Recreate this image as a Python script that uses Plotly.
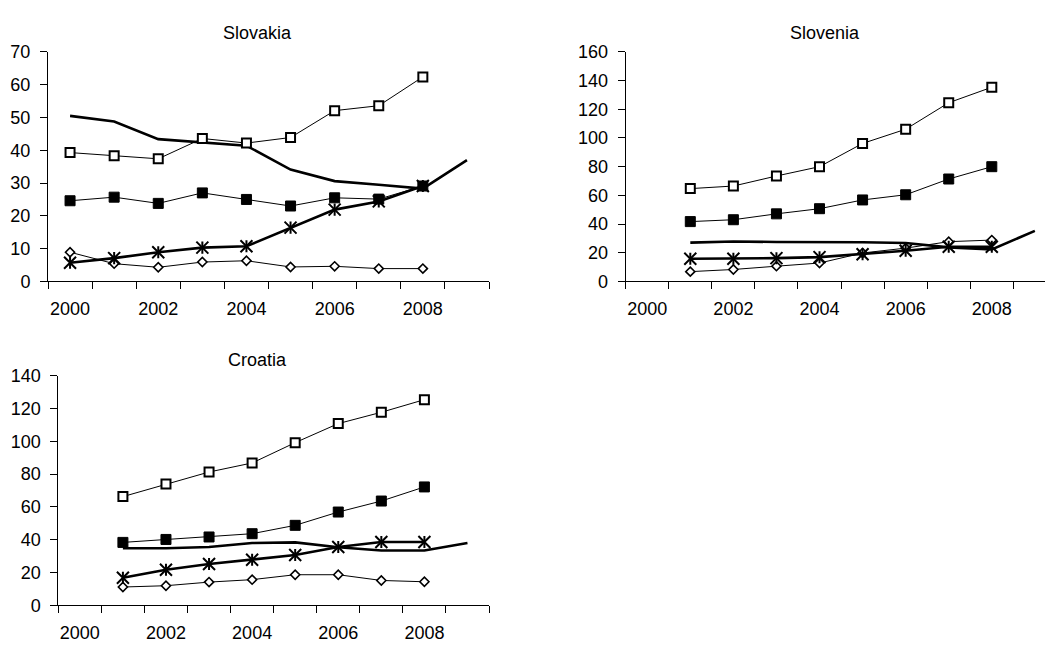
import plotly.graph_objects as go

W, H = 1045, 650

years = [2000, 2001, 2002, 2003, 2004, 2005, 2006, 2007, 2008, 2009]
year_ticks = [2000, 2002, 2004, 2006, 2008]

# Slovakia: marked series 2000-2008, plain bold line 2000-2009
svk_open_sq = [39.3, 38.3, 37.4, 43.6, 42.2, 43.9, 52.1, 53.6, 62.4]
svk_filled_sq = [24.6, 25.7, 23.8, 27.0, 25.0, 23.0, 25.5, 25.1, 29.1]
svk_diamond = [8.9, 5.4, 4.3, 5.9, 6.3, 4.4, 4.6, 3.9, 3.9]
svk_star = [5.7, 7.1, 8.9, 10.3, 10.7, 16.4, 21.9, 24.4, 29.1]
svk_line = [50.5, 48.8, 43.4, 42.4, 41.4, 34.1, 30.6, 29.5, 28.3, 37.0]

# Slovenia: marked series 2001-2008, plain bold line 2001-2009
svn_open_sq = [64.7, 66.5, 73.5, 80.0, 96.2, 106.1, 124.6, 135.4]
svn_filled_sq = [41.7, 43.0, 47.1, 50.7, 56.8, 60.4, 71.4, 80.0]
svn_diamond = [6.8, 8.3, 10.6, 12.8, 19.8, 23.2, 27.7, 28.8]
svn_star = [15.8, 15.8, 16.2, 16.9, 18.9, 21.4, 24.1, 24.1]
svn_line = [27.0, 27.8, 27.5, 27.5, 27.3, 26.8, 23.7, 22.3, 35.2]

# Croatia: marked series 2001-2008, plain bold line 2001-2009
hrv_open_sq = [66.3, 74.0, 81.3, 86.8, 99.2, 110.8, 117.7, 125.4]
hrv_filled_sq = [38.4, 40.2, 41.7, 43.7, 48.8, 56.9, 63.6, 72.2]
hrv_diamond = [11.2, 12.0, 14.2, 15.7, 18.7, 18.7, 15.2, 14.4]
hrv_star = [16.9, 21.7, 25.2, 27.8, 30.7, 35.6, 38.6, 38.6]
hrv_line = [34.8, 34.8, 35.6, 38.0, 38.4, 35.4, 33.5, 33.5, 38.0]

FONT = "Arial, 'Liberation Sans', sans-serif"

fig = go.Figure()


def add_panel(xa, ya, start, open_sq, filled_sq, diamond, star, line):
    xs = years[start:start + len(open_sq)]
    xl = years[start:start + len(line)]
    ax = dict(xaxis=xa, yaxis=ya, showlegend=False, hoverinfo="skip")
    # plain bold line
    fig.add_trace(go.Scatter(x=xl, y=line, mode="lines",
                             line=dict(color="black", width=2.6), **ax))
    # open squares
    fig.add_trace(go.Scatter(x=xs, y=open_sq, mode="lines+markers",
                             line=dict(color="black", width=1),
                             marker=dict(symbol="square", size=9, color="white",
                                         line=dict(color="black", width=2)), **ax))
    # filled squares
    fig.add_trace(go.Scatter(x=xs, y=filled_sq, mode="lines+markers",
                             line=dict(color="black", width=1),
                             marker=dict(symbol="square", size=10, color="black",
                                         line=dict(color="black", width=1)), **ax))
    # open diamonds
    fig.add_trace(go.Scatter(x=xs, y=diamond, mode="lines+markers",
                             line=dict(color="black", width=1),
                             marker=dict(symbol="diamond", size=7, color="white",
                                         line=dict(color="black", width=1.6)), **ax))
    # stars: bold line with X + vertical bar markers
    fig.add_trace(go.Scatter(x=xs, y=star, mode="lines+markers",
                             line=dict(color="black", width=2.6),
                             marker=dict(symbol="x-thin-open", size=12, color="black",
                                         line=dict(color="black", width=2)), **ax))
    fig.add_trace(go.Scatter(x=xs, y=star, mode="markers",
                             marker=dict(symbol="line-ns-open", size=8.6, color="black",
                                         line=dict(color="black", width=2)), **ax))


add_panel("x", "y", 0, svk_open_sq, svk_filled_sq, svk_diamond, svk_star, svk_line)
add_panel("x2", "y2", 1, svn_open_sq, svn_filled_sq, svn_diamond, svn_star, svn_line)
add_panel("x3", "y3", 1, hrv_open_sq, hrv_filled_sq, hrv_diamond, hrv_star, hrv_line)


def xaxis(left, right, end, anchor):
    return dict(domain=[left / W, right / W], range=[1999.5, end], anchor=anchor,
                tickmode="array", tickvals=year_ticks,
                ticktext=[str(v) for v in year_ticks], ticks="",
                ticklabelstandoff=11,
                minor=dict(tickmode="linear", tick0=1999.5, dtick=1, ticks="outside",
                           ticklen=7, tickwidth=1, tickcolor="black", showgrid=False),
                showline=True, linecolor="black", linewidth=1,
                showgrid=False, zeroline=False, fixedrange=True)


def yaxis(top, bottom, ymax, dtick, anchor):
    return dict(domain=[(H - bottom) / H, (H - top) / H], range=[0, ymax], anchor=anchor,
                dtick=dtick, tick0=0, ticks="outside", ticklen=7, tickwidth=1,
                tickcolor="black", ticklabelstandoff=6,
                showline=True, linecolor="black", linewidth=1,
                showgrid=False, zeroline=False, fixedrange=True)


fig.update_layout(
    width=W, height=H,
    margin=dict(l=0, r=0, t=0, b=0),
    paper_bgcolor="white", plot_bgcolor="white",
    font=dict(family=FONT, size=18, color="black"),
    showlegend=False,
    hovermode=False,
    xaxis=xaxis(48, 489, 2009.5, "y"),
    yaxis=yaxis(43.3, 280, 70, 10, "x"),
    xaxis2=xaxis(625.7, 1045, 1999.5 + (1045 - 625.7) / 43.07, "y2"),
    yaxis2=yaxis(43.3, 280, 160, 20, "x2"),
    xaxis3=xaxis(58.3, 489, 2009.5, "y3"),
    yaxis3=yaxis(377.3, 614.3, 140, 20, "x3"),
    annotations=[
        dict(text="Slovakia", x=257.5 / W, y=(H - 24) / H, xref="paper", yref="paper",
             showarrow=False, xanchor="center", yanchor="middle", font=dict(size=18)),
        dict(text="Slovenia", x=825 / W, y=(H - 24) / H, xref="paper", yref="paper",
             showarrow=False, xanchor="center", yanchor="middle", font=dict(size=18)),
        dict(text="Croatia", x=257.5 / W, y=(H - 361) / H, xref="paper", yref="paper",
             showarrow=False, xanchor="center", yanchor="middle", font=dict(size=18)),
    ],
)

fig.write_html("out.html")
